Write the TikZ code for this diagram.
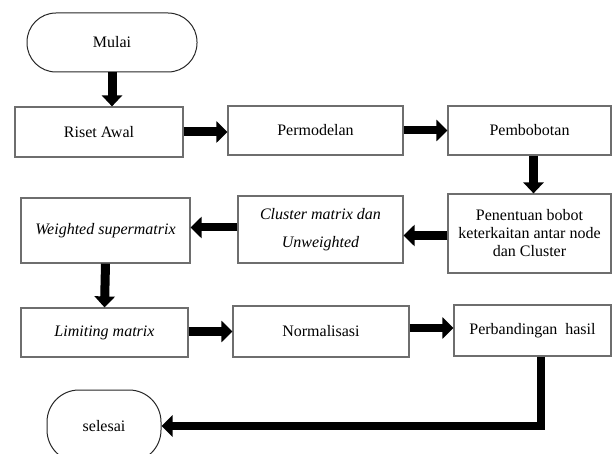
\documentclass[tikz,border=0pt]{standalone}
\usepackage{fontspec}
\setmainfont{Liberation Serif}
\usetikzlibrary{arrows.meta}
\definecolor{boxgray}{RGB}{110,110,110}
\begin{document}
\begin{tikzpicture}[x=1pt,y=-1pt,
  box/.style={draw=boxgray,line width=1.2pt,rectangle,inner sep=2pt,align=center,
    font=\fontsize{16}{18}\selectfont},
  term/.style={draw=black!85,line width=1pt,rectangle,align=center,
    font=\fontsize{16}{18}\selectfont},
  barrow/.style={line width=9pt,-{Triangle[width=21pt,length=11pt]}},
  barrowv/.style={line width=9pt,-{Triangle[width=20pt,length=11pt]}}]
\useasboundingbox (0,0) rectangle (613,454);
\clip (0,0) rectangle (613,454);
\node[term,rounded corners=29pt,minimum width=170pt,minimum height=59pt] (mulai) at (112,42.5) {Mulai};
\node[box,minimum width=168pt,minimum height=50pt] (riset) at (99,132) {Riset Awal};
\node[box,minimum width=175pt,minimum height=49pt] (perm) at (315.5,130.5) {Permodelan};
\node[box,minimum width=163pt,minimum height=49pt] (pemb) at (529.5,130.5) {Pembobotan};
\node[box,minimum width=163pt,minimum height=79pt] (pen) at (529.5,233.5) {Penentuan bobot\\keterkaitan antar node\\dan Cluster};
\node[box,minimum width=165pt,minimum height=67pt,font=\fontsize{16}{28}\selectfont\itshape] (clus) at (320.5,229.5) {Cluster matrix dan\\Unweighted};
\node[box,minimum width=169pt,minimum height=65pt,font=\fontsize{16}{18}\selectfont\itshape] (weig) at (105.5,230.5) {Weighted supermatrix};
\node[box,minimum width=167pt,minimum height=49pt,font=\fontsize{16}{18}\selectfont\itshape] (lim) at (104.5,332.5) {Limiting matrix};
\node[box,minimum width=176pt,minimum height=51pt] (norm) at (321,331.5) {Normalisasi};
\node[box,minimum width=157pt,minimum height=51pt] (perb) at (532.5,330.5) {Perbandingan~ hasil};
\node[term,rounded corners=32pt,minimum width=114pt,minimum height=72pt] (sel) at (104,426) {selesai};

\draw[barrowv] (mulai.south) -- (riset.north -| mulai.south);
\draw[barrow] (riset.east) -- (riset.east -| perm.west);
\draw[barrow,line width=8pt] (perm.east) -- (perm.east -| pemb.west);
\draw[barrowv] ([xshift=4pt]pemb.south) -- ([xshift=4pt]pen.north);
\draw[barrow,line width=9pt] ([yshift=-2pt]pen.west) -- ([yshift=-2pt]pen.west -| clus.east);
\draw[barrow,line width=8pt] ([yshift=2pt]clus.west) -- ([yshift=2pt]clus.west -| weig.east);
\draw[barrowv] (weig.south) -- (lim.north);
\draw[barrow,line width=9pt] ([yshift=1pt]lim.east) -- ([yshift=1pt]lim.east -| norm.west);
\draw[barrow,line width=8pt] ([yshift=3.5pt]norm.east) -- ([yshift=3.5pt]norm.east -| perb.west);
\draw[barrow,line width=8pt] ([xshift=8pt]perb.south) |- (sel.east);
\end{tikzpicture}
\end{document}
